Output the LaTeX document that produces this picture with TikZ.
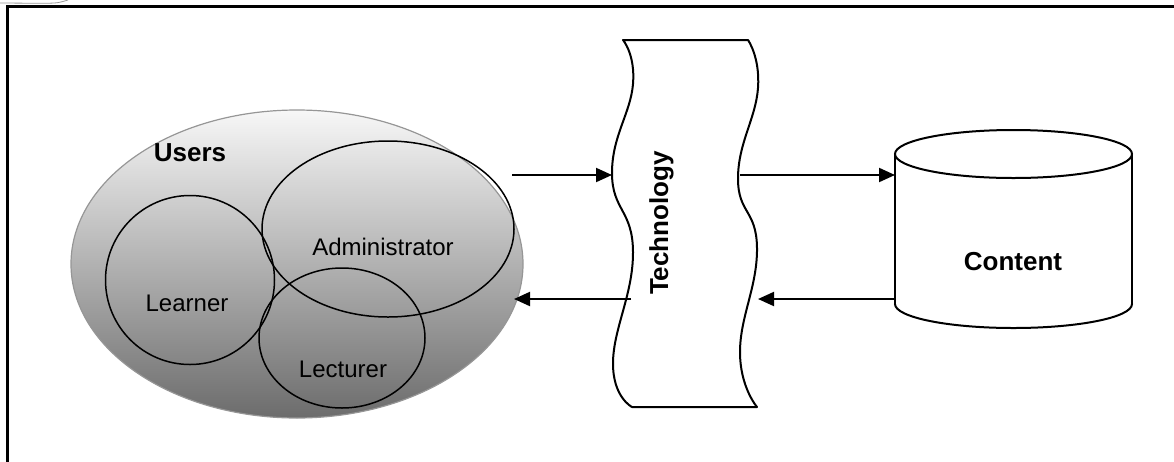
\documentclass[tikz,border=0pt]{standalone}
\usepackage{fontspec}
\setmainfont{Liberation Sans}
\usetikzlibrary{shapes.geometric, arrows.meta}
\definecolor{shadetop}{RGB}{247,247,247}
\definecolor{shadebot}{RGB}{108,108,108}
\definecolor{rim}{RGB}{150,150,150}
\tikzset{
  set/.style={ellipse, draw=black, line width=1.5pt, inner sep=0pt},
  lbl/.style={font=\fontsize{24}{28}\selectfont, inner sep=0pt},
  title/.style={font=\bfseries\fontsize{26}{30}\selectfont, inner sep=0pt},
  flow/.style={line width=2pt, -{Triangle[length=16pt,width=14pt]}},
  outline/.style={line width=2pt, draw=black},
}
\begin{document}
\begin{tikzpicture}[x=1pt,y=-1pt]
\useasboundingbox (0,0) rectangle (1174,461);

% page frame and the scrap of line above it
\draw[line width=3pt] (7.5,475) -- (7.5,6.5) -- (1185,6.5);
\draw[rim, line width=0.8pt] (0,3) -- (45,3.3) .. controls (58,3) .. (68,0);

% users group with its three roles
\node[ellipse, minimum width=452, minimum height=308, inner sep=0pt,
      draw=rim, line width=1.2pt, top color=shadetop, bottom color=shadebot]
      (users) at (297,264) {};
\node[set, minimum width=252, minimum height=176] (admin) at (388,229) {};
\node[set, minimum width=169, minimum height=169] (learner) at (190,280) {};
\node[set, minimum width=166, minimum height=140] (lecturer) at (342,338) {};
\node[title] (userslbl) at (190,153) {Users};
\node[lbl] (adminlbl) at (383,247) {Administrator};
\node[lbl] (learnerlbl) at (187,303) {Learner};
\node[lbl] (lecturerlbl) at (343,369) {Lecturer};

% technology: double-wave band
\draw[outline, fill=white, line join=round]
  plot[smooth, tension=0.8] coordinates {(623,40) (633,84) (612,173) (633,252) (613,363) (632,407)}
  -- plot[smooth, tension=0.8] coordinates {(757,407) (740,352) (757,248) (738,178) (758,88) (748,40)}
  -- cycle;
\node[title, rotate=90, anchor=base] (tech) at (668,223) {Technology};

% content store: cylinder
\filldraw[outline, fill=white] (1013.5,304) ellipse [x radius=118.5, y radius=24];
\fill[white] (895,154) rectangle (1132,304);
\draw[outline] (895,154) -- (895,304) (1132,154) -- (1132,304);
\filldraw[outline, fill=white] (1013.5,154) ellipse [x radius=118.5, y radius=24];
\node[title] (content) at (1013,262) {Content};

% connector end points
\coordinate (usersout) at (512,175);
\coordinate (techin) at (612,175);
\coordinate (techout) at (740,175);
\coordinate (contentin) at (895,175);
\coordinate (contentout) at (896,299);
\coordinate (techback) at (758,299);
\coordinate (techleft) at (631,299);
\coordinate (usersin) at (514,299);

\draw[flow] (usersout) -- (techin);
\draw[flow] (techout) -- (contentin);
\draw[flow] (contentout) -- (techback);
\draw[flow] (techleft) -- (usersin);
\end{tikzpicture}
\end{document}
